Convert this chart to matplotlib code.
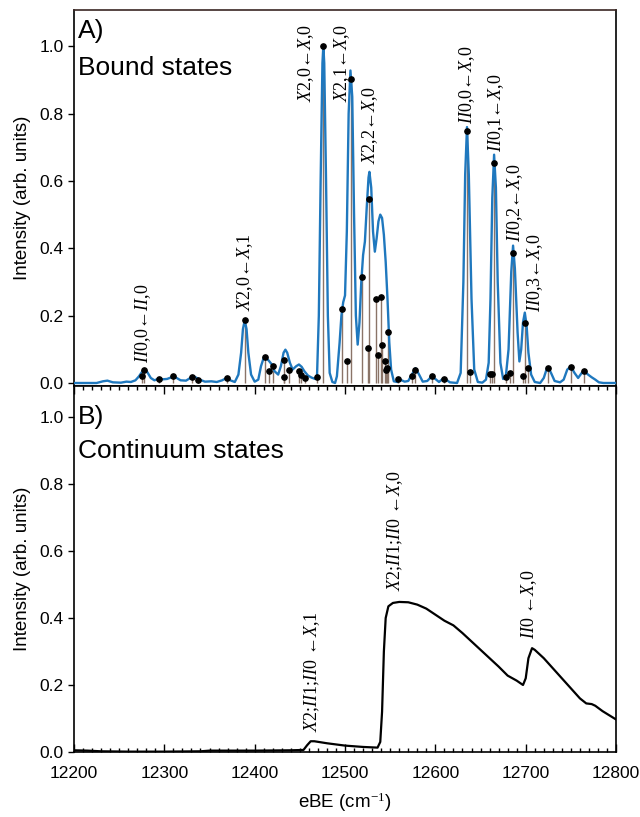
import numpy as np
import matplotlib
matplotlib.use('Agg')
import matplotlib.pyplot as plt
from matplotlib.ticker import MultipleLocator

plt.rcParams['font.family'] = ['Liberation Sans', 'DejaVu Sans']
plt.rcParams['mathtext.fontset'] = 'custom'
plt.rcParams['mathtext.rm'] = 'Liberation Serif'
plt.rcParams['mathtext.it'] = 'Liberation Serif:italic'

# --- panel A: convolved bound-state spectrum (blue) ---
bound_ebe = [12200, 12225, 12232, 12237, 12243, 12252, 12258, 12263, 12268, 12272,
             12276, 12278, 12281, 12285, 12289, 12294, 12298, 12303, 12309, 12313,
             12318, 12324, 12330, 12334, 12339, 12345, 12352, 12358, 12364, 12369,
             12373, 12378, 12382, 12385, 12387, 12389, 12391, 12393, 12396, 12400,
             12404, 12407, 12410, 12413, 12416, 12419, 12422, 12426, 12429, 12432,
             12434, 12436, 12439, 12442, 12446, 12449, 12452, 12455, 12459, 12463,
             12467, 12469, 12471, 12473, 12475, 12476, 12477, 12479, 12481, 12483,
             12486, 12489, 12491, 12494, 12496, 12498, 12500, 12502, 12504, 12506,
             12508, 12510, 12512, 12514, 12516, 12518, 12520, 12522, 12524, 12526,
             12527, 12529, 12531, 12533, 12535, 12537, 12539, 12541, 12543, 12545,
             12547, 12549, 12551, 12554, 12558, 12561, 12566, 12570, 12574, 12578,
             12582, 12586, 12591, 12596, 12600, 12604, 12608, 12612, 12616, 12624,
             12628, 12631, 12633, 12635, 12637, 12640, 12643, 12647, 12652, 12656,
             12659, 12661, 12663, 12665, 12667, 12669, 12672, 12675, 12678, 12681,
             12684, 12686, 12688, 12691, 12693, 12695, 12697, 12699, 12701, 12703,
             12706, 12710, 12716, 12720, 12723, 12725, 12728, 12732, 12738, 12742,
             12746, 12750, 12754, 12758, 12762, 12765, 12769, 12773, 12777, 12781,
             12786, 12800]
bound_int = [0.0, 0.0, 0.005, 0.007, 0.002, 0.001, 0.004, 0.003, 0.008, 0.02,
             0.036, 0.041, 0.033, 0.015, 0.008, 0.013, 0.011, 0.012, 0.018, 0.016,
             0.008, 0.007, 0.017, 0.018, 0.01, 0.004, 0.005, 0.003, 0.008, 0.015,
             0.008, 0.003, 0.025, 0.09, 0.16, 0.186, 0.16, 0.09, 0.025, 0.004,
             0.01, 0.05, 0.075, 0.074, 0.065, 0.055, 0.035, 0.025, 0.05, 0.09,
             0.099, 0.09, 0.06, 0.04, 0.05, 0.055, 0.048, 0.035, 0.022, 0.016,
             0.012, 0.02, 0.2, 0.6, 0.95, 1.0, 0.95, 0.6, 0.2, 0.03,
             0.003, 0.0, 0.02, 0.12, 0.2, 0.24, 0.26, 0.45, 0.8, 0.928,
             0.85, 0.5, 0.2, 0.114, 0.18, 0.3, 0.38, 0.42, 0.52, 0.61,
             0.627, 0.58, 0.45, 0.39, 0.43, 0.48, 0.5, 0.49, 0.44, 0.36,
             0.25, 0.12, 0.04, 0.005, 0.003, 0.01, 0.004, 0.006, 0.025, 0.044,
             0.025, 0.004, 0.006, 0.02, 0.012, 0.003, 0.012, 0.01, 0.002, 0.0,
             0.03, 0.3, 0.62, 0.76, 0.62, 0.25, 0.04, 0.003, 0.001, 0.01,
             0.06, 0.25, 0.55, 0.678, 0.58, 0.3, 0.06, 0.012, 0.02, 0.1,
             0.33, 0.408, 0.34, 0.15, 0.064, 0.1, 0.18, 0.209, 0.17, 0.09,
             0.025, 0.003, 0.0, 0.015, 0.04, 0.046, 0.03, 0.006, 0.002, 0.01,
             0.04, 0.049, 0.03, 0.015, 0.03, 0.035, 0.025, 0.017, 0.01, 0.002,
             0.0, 0.0]

# stick spectrum (Franck-Condon factors)
stick_ebe = [12275, 12278, 12294, 12310, 12331, 12337, 12369, 12389, 12411, 12416,
             12420, 12432, 12433, 12438, 12449, 12451, 12456, 12469, 12476, 12497,
             12502, 12507, 12519, 12525, 12527, 12534, 12536, 12540, 12541, 12544,
             12545, 12547, 12548, 12559, 12574, 12578, 12596, 12610, 12635, 12638,
             12660, 12663, 12665, 12678, 12683, 12686, 12697, 12699, 12703, 12725,
             12750, 12765]
stick_int = [0.022, 0.04, 0.013, 0.02, 0.018, 0.01, 0.015, 0.186, 0.077, 0.037,
             0.05, 0.017, 0.069, 0.04, 0.035, 0.025, 0.015, 0.017, 1.0, 0.219,
             0.064, 0.903, 0.316, 0.104, 0.546, 0.25, 0.084, 0.254, 0.114, 0.066,
             0.04, 0.044, 0.151, 0.013, 0.02, 0.04, 0.02, 0.013, 0.748, 0.033,
             0.027, 0.028, 0.654, 0.017, 0.03, 0.385, 0.022, 0.178, 0.044, 0.046,
             0.049, 0.035]

# --- panel B: continuum states ---
cont_ebe = [12200, 12215, 12230, 12260, 12300, 12340, 12350, 12400, 12440, 12454,
            12458, 12462, 12466, 12480, 12500, 12520, 12536, 12539, 12541, 12543,
            12545, 12548, 12553, 12560, 12570, 12580, 12590, 12600, 12610, 12620,
            12630, 12640, 12650, 12660, 12670, 12680, 12690, 12697, 12700, 12703,
            12707, 12710, 12720, 12730, 12740, 12750, 12760, 12767, 12773, 12777,
            12785, 12800]
cont_int = [0.005, 0.004, 0.002, 0.001, 0.001, 0.002, 0.004, 0.004, 0.005, 0.006,
            0.02, 0.032, 0.032, 0.026, 0.019, 0.015, 0.013, 0.03, 0.12, 0.3,
            0.4, 0.435, 0.445, 0.448, 0.447, 0.44, 0.428, 0.41, 0.392, 0.378,
            0.355, 0.33, 0.305, 0.28, 0.255, 0.228, 0.213, 0.2, 0.22, 0.28,
            0.31, 0.305, 0.28, 0.25, 0.22, 0.19, 0.16, 0.145, 0.143, 0.138,
            0.122, 0.097]

# peak assignments
bound_lab_x = [12277, 12389, 12457, 12497, 12528, 12635, 12667, 12688, 12710]
bound_lab_y = [0.06, 0.215, 0.834, 0.834, 0.65, 0.77, 0.686, 0.42, 0.212]
bound_lab = ['$II$0,0←$II$,0', '$X$2,0←$X$,1', '$X$2,0←$X$,0', '$X$2,1←$X$,0',
             '$X$2,2←$X$,0', '$II$0,0←$X$,0', '$II$0,1←$X$,0', '$II$0,2←$X$,0',
             '$II$0,3←$X$,0']
cont_lab_x = [12464, 12555, 12704]
cont_lab_y = [0.06, 0.48, 0.337]
cont_lab = ['$X$2;$II$1;$II$0 ←$X$,1', '$X$2;$II$1;$II$0 ←$X$,0', '$II$0 ←$X$,0']

blue = '#1f78be'
stick_col = '#8a7468'
serif = ['Liberation Serif', 'DejaVu Serif']

fig = plt.figure(figsize=(6.4, 8.17), dpi=100)
ax1 = fig.add_axes([0.1156, 0.5275, 0.847, 0.460])
ax2 = fig.add_axes([0.1156, 0.0796, 0.847, 0.448], sharex=ax1)

ax1.vlines(stick_ebe, 0, stick_int, color=stick_col, lw=1.0, zorder=2)
ax1.plot(bound_ebe, bound_int, color=blue, lw=1.7, zorder=3)
ax1.plot(stick_ebe, stick_int, 'o', color='black', ms=3.8, zorder=4)
for x, y, s in zip(bound_lab_x, bound_lab_y, bound_lab):
    ax1.text(x, y, s, rotation=90, ha='center', va='bottom', fontsize=13, family=serif)

ax2.plot(cont_ebe, cont_int, color='black', lw=1.6)
for x, y, s in zip(cont_lab_x, cont_lab_y, cont_lab):
    ax2.text(x, y, s, rotation=90, ha='center', va='bottom', fontsize=13, family=serif)

ax1.set_ylim(-0.009, 1.107)
ax2.set_ylim(0, 1.093)
ax2.set_xlim(12200, 12800)

ax1.text(12204, 1.045, 'A)', fontsize=19, va='center')
ax1.text(12204, 0.935, 'Bound states', fontsize=19, va='center')
ax2.text(12204, 1.0, 'B)', fontsize=19, va='center')
ax2.text(12204, 0.90, 'Continuum states', fontsize=19, va='center')

for ax in (ax1, ax2):
    ax.set_yticks([0.0, 0.2, 0.4, 0.6, 0.8, 1.0])
    ax.set_yticklabels(['0.0', '0.2', '0.4', '0.6', '0.8', '1.0'])
    ax.tick_params(axis='y', direction='out', length=4, width=1, labelsize=12.5)
    ax.set_ylabel('Intensity (arb. units)', fontsize=13.5, labelpad=6)
    for sp in ax.spines.values():
        sp.set_linewidth(1.2)
ax1.spines['top'].set_color('#3a2622')

ax1.tick_params(axis='x', which='both', bottom=False, labelbottom=False)
ax2.xaxis.set_major_locator(MultipleLocator(100))
ax2.xaxis.set_minor_locator(MultipleLocator(10))
ax2.tick_params(axis='x', which='both', direction='in', top=True, labelsize=12.5, pad=10)
ax2.tick_params(axis='x', which='major', length=6, width=1)
ax2.tick_params(axis='x', which='minor', length=3, width=1)
ax2.set_xlabel('eBE (cm$^{-1}$)', fontsize=13.5, labelpad=7)

plt.savefig('out.png', dpi=100)
